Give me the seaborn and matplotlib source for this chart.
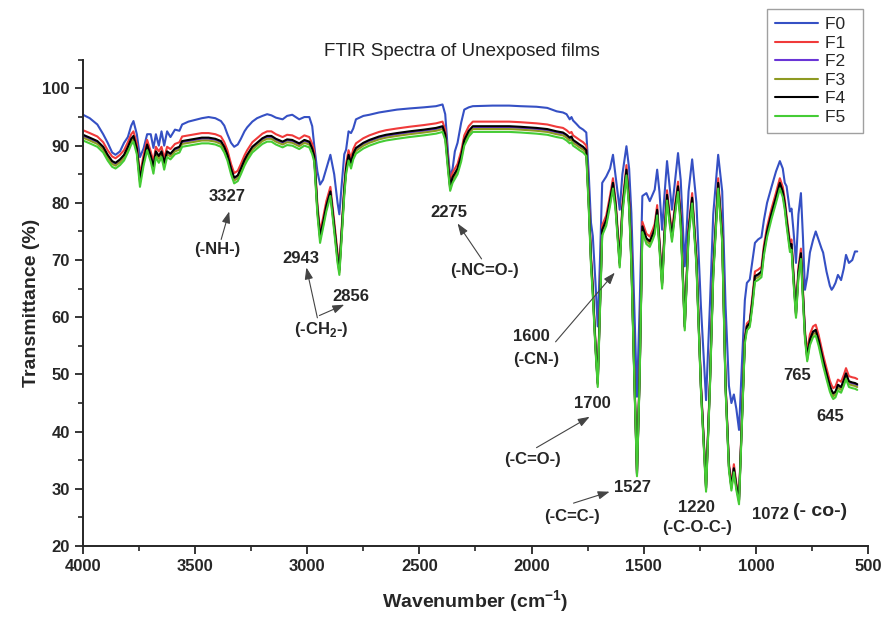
"""FTIR spectra of unexposed films F0-F5."""

import matplotlib

matplotlib.use("Agg")
import matplotlib.pyplot as plt
import pandas as pd
import seaborn as sns
from matplotlib.ticker import AutoMinorLocator, MultipleLocator

# wavenumber grid (cm-1)
WAVENUMBER = [
    4000, 3970, 3936, 3910, 3890, 3870, 3855, 3835, 3817, 3800,
    3785, 3775, 3760, 3746, 3730, 3714, 3698, 3686, 3675, 3662,
    3650, 3638, 3625, 3610, 3590, 3570, 3558, 3530, 3500, 3470,
    3440, 3410, 3385, 3370, 3356, 3340, 3326, 3310, 3296, 3280,
    3268, 3245, 3224, 3200, 3179, 3160, 3140, 3110, 3090, 3067,
    3036, 3013, 2991, 2978, 2969, 2955, 2943, 2930, 2915, 2897,
    2880, 2865, 2857, 2848, 2835, 2827, 2816, 2805, 2795, 2783,
    2750, 2723, 2680, 2649, 2600, 2545, 2480, 2426, 2397, 2385,
    2372, 2363, 2352, 2342, 2330, 2314, 2300, 2280, 2262, 2174,
    2100, 2050, 1978, 1930, 1888, 1860, 1844, 1830, 1822, 1815,
    1800, 1786, 1770, 1756, 1745, 1735, 1727, 1715, 1705, 1695,
    1685, 1667, 1650, 1637, 1625, 1607, 1595, 1577, 1565, 1555,
    1542, 1530, 1518, 1506, 1488, 1473, 1460, 1451, 1440, 1430,
    1418, 1408, 1396, 1385, 1374, 1360, 1347, 1335, 1317, 1300,
    1284, 1265, 1245, 1222, 1205, 1190, 1168, 1150, 1135, 1120,
    1109, 1098, 1087, 1075, 1062, 1049, 1040, 1027, 1015, 1004,
    990, 975, 964, 950, 930, 910, 893, 880, 871, 863,
    848, 841, 832, 821, 810, 799, 790, 781, 771, 759,
    745, 733, 720, 707, 700, 685, 670, 662, 655, 645,
    634, 620, 608, 598, 585, 570, 558, 548,
]

F0 = [
    95.4, 94.8, 93.7, 92.0, 90.5, 88.8, 88.4, 89.0, 90.5, 91.5,
    93.5, 94.3, 92.0, 88.0, 89.5, 92.0, 92.0, 89.6, 92.0, 90.0,
    92.5, 90.0, 92.5, 91.5, 92.8, 92.6, 93.7, 94.2, 94.5, 94.8,
    95.0, 94.8, 94.3, 93.5, 92.0, 90.5, 89.8, 90.2, 91.2, 92.5,
    93.2, 94.2, 94.8, 95.2, 95.5, 95.3, 94.9, 94.6, 95.2, 95.4,
    94.6, 95.0, 95.0, 93.4, 90.0, 85.5, 83.2, 84.0, 86.0, 88.4,
    85.0, 80.0, 78.0, 82.5, 88.5, 89.3, 92.5, 92.2, 93.0, 94.6,
    95.2, 95.4, 95.8, 96.0, 96.3, 96.5, 96.7, 96.9, 97.2, 95.5,
    88.5, 84.5, 86.0, 89.0, 90.5, 94.0, 96.3, 96.7, 96.9, 97.0,
    97.0, 96.9, 96.8, 96.6, 96.0, 95.8, 95.5, 94.6, 95.0, 94.4,
    93.8, 93.2, 92.8, 92.3, 85.0, 76.5, 74.2, 66.0, 58.4, 70.0,
    83.5, 84.6, 86.0, 88.4, 84.5, 78.8, 85.0, 89.9, 86.0, 78.2,
    62.0, 46.1, 62.0, 81.2, 81.7, 80.3, 81.5, 82.3, 85.8, 82.0,
    75.3, 81.0, 87.3, 83.0, 78.8, 84.0, 88.7, 84.0, 68.9, 82.0,
    87.6, 80.0, 62.0, 45.5, 62.0, 78.0, 88.4, 82.0, 62.0, 48.0,
    45.0, 46.5, 44.0, 40.3, 52.0, 63.0, 66.0, 66.6, 70.0, 73.0,
    73.6, 74.0, 77.0, 80.0, 82.8, 85.5, 87.3, 86.0, 83.5, 82.9,
    78.5, 79.0, 75.0, 69.5, 78.0, 81.7, 74.0, 64.8, 67.0, 71.3,
    73.5, 75.0, 73.5, 72.0, 71.3, 68.0, 65.5, 64.8, 65.2, 66.0,
    67.4, 66.5, 68.5, 70.9, 69.5, 70.0, 71.5, 71.5,
]

F1 = [
    92.7, 92.2, 91.6, 90.6, 89.2, 88.1, 87.8, 88.4, 89.2, 90.6,
    92.0, 92.5, 90.3, 84.9, 88.3, 91.0, 89.0, 87.2, 89.8, 89.0,
    89.8, 87.8, 89.8, 89.4, 90.3, 90.6, 91.6, 91.8, 92.0, 92.2,
    92.2, 92.0, 91.6, 90.6, 89.2, 86.8, 85.2, 85.6, 86.8, 88.3,
    89.2, 90.6, 91.3, 92.1, 92.5, 92.5, 92.0, 91.5, 91.9, 91.8,
    91.2, 91.8, 91.5, 90.3, 89.0, 79.8, 75.0, 77.3, 80.3, 82.8,
    76.8, 71.3, 69.1, 74.8, 83.1, 86.8, 89.2, 87.8, 89.4, 90.4,
    91.3, 91.8, 92.4, 92.7, 93.0, 93.3, 93.6, 93.9, 94.2, 92.8,
    87.3, 83.7, 85.3, 86.0, 86.8, 89.0, 91.8, 93.4, 94.2, 94.2,
    94.2, 94.1, 93.9, 93.7, 93.3, 93.1, 92.7, 92.2, 92.4, 91.8,
    91.4, 91.0, 90.6, 90.0, 80.8, 70.8, 65.6, 55.5, 49.0, 62.8,
    76.1, 77.8, 81.3, 84.3, 80.3, 70.3, 79.8, 86.6, 80.8, 70.8,
    50.5, 33.2, 50.5, 76.7, 74.6, 74.1, 75.3, 76.3, 79.6, 73.8,
    66.8, 74.8, 82.2, 78.3, 75.0, 79.8, 83.7, 77.8, 58.9, 75.8,
    81.7, 70.8, 48.5, 30.7, 48.5, 68.8, 84.3, 74.8, 48.5, 34.5,
    30.9, 34.3, 31.0, 28.6, 42.5, 56.6, 58.9, 59.5, 63.8, 68.0,
    68.3, 68.8, 72.6, 75.8, 79.0, 81.8, 84.3, 82.8, 80.6, 77.8,
    73.2, 73.6, 67.8, 61.5, 68.8, 72.0, 64.8, 57.7, 54.0, 57.0,
    58.4, 58.7, 56.9, 54.6, 53.4, 51.1, 48.9, 48.1, 47.6, 47.9,
    49.1, 48.7, 49.9, 51.1, 49.7, 49.5, 49.4, 49.2,
]

F2 = [
    91.7, 91.2, 90.6, 89.6, 88.2, 87.1, 86.8, 87.4, 88.2, 89.6,
    91.0, 91.5, 89.3, 83.9, 87.3, 90.0, 88.0, 86.2, 88.8, 88.0,
    88.8, 86.8, 88.8, 88.4, 89.3, 89.6, 90.6, 90.8, 91.0, 91.2,
    91.2, 91.0, 90.6, 89.6, 88.2, 85.8, 84.2, 84.6, 85.8, 87.3,
    88.2, 89.6, 90.3, 91.1, 91.5, 91.5, 91.0, 90.5, 90.9, 90.8,
    90.2, 90.8, 90.5, 89.3, 88.0, 78.8, 74.0, 76.3, 79.3, 81.8,
    75.8, 70.3, 68.1, 73.8, 82.1, 85.8, 88.2, 86.8, 88.4, 89.4,
    90.3, 90.8, 91.4, 91.7, 92.0, 92.3, 92.6, 92.9, 93.2, 91.8,
    86.3, 82.7, 84.3, 85.0, 85.8, 88.0, 90.8, 92.4, 93.2, 93.2,
    93.2, 93.1, 92.9, 92.7, 92.3, 92.1, 91.7, 91.2, 91.4, 90.8,
    90.4, 90.0, 89.6, 89.0, 79.8, 69.8, 64.6, 54.9, 48.4, 61.8,
    75.1, 76.8, 80.3, 83.3, 79.3, 69.3, 78.8, 85.6, 79.8, 69.8,
    49.9, 32.6, 49.9, 75.7, 73.6, 73.1, 74.3, 75.3, 78.6, 72.8,
    65.8, 73.8, 81.2, 77.3, 74.0, 78.8, 82.7, 76.8, 58.3, 74.8,
    80.7, 69.8, 47.9, 30.1, 47.9, 67.8, 83.3, 73.8, 47.9, 33.9,
    30.3, 33.5, 30.4, 28.0, 41.9, 56.0, 58.3, 58.9, 62.8, 67.0,
    67.3, 67.8, 71.6, 74.8, 78.0, 80.8, 83.3, 81.8, 79.6, 76.8,
    72.2, 72.6, 66.8, 60.5, 67.8, 71.0, 63.8, 56.9, 52.9, 55.9,
    57.3, 57.6, 55.8, 53.5, 52.3, 50.0, 47.8, 47.0, 46.5, 46.8,
    48.0, 47.6, 48.8, 50.0, 48.6, 48.4, 48.3, 48.1,
]

F3 = [
    91.4, 90.9, 90.3, 89.3, 87.9, 86.8, 86.5, 87.1, 87.9, 89.3,
    90.7, 91.2, 89.0, 83.6, 87.0, 89.7, 87.7, 85.9, 88.5, 87.7,
    88.5, 86.5, 88.5, 88.1, 89.0, 89.3, 90.3, 90.5, 90.7, 90.9,
    90.9, 90.7, 90.3, 89.3, 87.9, 85.5, 83.9, 84.3, 85.5, 87.0,
    87.9, 89.3, 90.0, 90.8, 91.2, 91.2, 90.7, 90.2, 90.6, 90.5,
    89.9, 90.5, 90.2, 89.0, 87.7, 78.5, 73.7, 76.0, 79.0, 81.5,
    75.5, 70.0, 67.8, 73.5, 81.8, 85.5, 87.9, 86.5, 88.1, 89.1,
    90.0, 90.5, 91.1, 91.4, 91.7, 92.0, 92.3, 92.6, 92.9, 91.5,
    86.0, 82.4, 84.0, 84.7, 85.5, 87.7, 90.5, 92.1, 92.9, 92.9,
    92.9, 92.8, 92.6, 92.4, 92.0, 91.8, 91.4, 90.9, 91.1, 90.5,
    90.1, 89.7, 89.3, 88.7, 79.5, 69.5, 64.3, 54.7, 48.2, 61.5,
    74.8, 76.5, 80.0, 83.0, 79.0, 69.0, 78.5, 85.3, 79.5, 69.5,
    49.7, 32.4, 49.7, 75.4, 73.3, 72.8, 74.0, 75.0, 78.3, 72.5,
    65.5, 73.5, 80.9, 77.0, 73.7, 78.5, 82.4, 76.5, 58.1, 74.5,
    80.4, 69.5, 47.7, 29.9, 47.7, 67.5, 83.0, 73.5, 47.7, 33.7,
    30.1, 33.3, 30.2, 27.8, 41.7, 55.8, 58.1, 58.7, 62.5, 66.7,
    67.0, 67.5, 71.3, 74.5, 77.7, 80.5, 83.0, 81.5, 79.3, 76.5,
    71.9, 72.3, 66.5, 60.2, 67.5, 70.7, 63.5, 56.7, 52.6, 55.6,
    57.0, 57.3, 55.5, 53.2, 52.0, 49.7, 47.5, 46.7, 46.2, 46.5,
    47.7, 47.3, 48.5, 49.7, 48.3, 48.1, 48.0, 47.8,
]

F4 = [
    91.9, 91.4, 90.8, 89.8, 88.4, 87.3, 87.0, 87.6, 88.4, 89.8,
    91.2, 91.7, 89.5, 84.1, 87.5, 90.2, 88.2, 86.4, 89.0, 88.2,
    89.0, 87.0, 89.0, 88.6, 89.5, 89.8, 90.8, 91.0, 91.2, 91.4,
    91.4, 91.2, 90.8, 89.8, 88.4, 86.0, 84.4, 84.8, 86.0, 87.5,
    88.4, 89.8, 90.5, 91.3, 91.7, 91.7, 91.2, 90.7, 91.1, 91.0,
    90.4, 91.0, 90.7, 89.5, 88.2, 79.0, 74.2, 76.5, 79.5, 82.0,
    76.0, 70.5, 68.3, 74.0, 82.3, 86.0, 88.4, 87.0, 88.6, 89.6,
    90.5, 91.0, 91.6, 91.9, 92.2, 92.5, 92.8, 93.1, 93.4, 92.0,
    86.5, 82.9, 84.5, 85.2, 86.0, 88.2, 91.0, 92.6, 93.4, 93.4,
    93.4, 93.3, 93.1, 92.9, 92.5, 92.3, 91.9, 91.4, 91.6, 91.0,
    90.6, 90.2, 89.8, 89.2, 80.0, 70.0, 64.8, 55.0, 48.5, 62.0,
    75.3, 77.0, 80.5, 83.5, 79.5, 69.5, 79.0, 85.8, 80.0, 70.0,
    50.0, 32.7, 50.0, 75.9, 73.8, 73.3, 74.5, 75.5, 78.8, 73.0,
    66.0, 74.0, 81.4, 77.5, 74.2, 79.0, 82.9, 77.0, 58.4, 75.0,
    80.9, 70.0, 48.0, 30.2, 48.0, 68.0, 83.5, 74.0, 48.0, 34.0,
    30.4, 33.6, 30.5, 28.1, 42.0, 56.1, 58.4, 59.0, 63.0, 67.2,
    67.5, 68.0, 71.8, 75.0, 78.2, 81.0, 83.5, 82.0, 79.8, 77.0,
    72.4, 72.8, 67.0, 60.7, 68.0, 71.2, 64.0, 57.0, 53.1, 56.1,
    57.5, 57.8, 56.0, 53.7, 52.5, 50.2, 48.0, 47.2, 46.7, 47.0,
    48.2, 47.8, 49.0, 50.2, 48.8, 48.6, 48.5, 48.3,
]

F5 = [
    90.9, 90.4, 89.8, 88.8, 87.4, 86.3, 86.0, 86.6, 87.4, 88.8,
    90.2, 90.7, 88.5, 82.8, 86.5, 89.2, 87.2, 85.1, 88.0, 87.0,
    88.0, 85.8, 88.0, 87.6, 88.5, 88.8, 89.8, 90.0, 90.2, 90.4,
    90.4, 90.2, 89.8, 88.8, 87.4, 85.0, 83.4, 83.8, 85.0, 86.5,
    87.4, 88.8, 89.5, 90.3, 90.7, 90.7, 90.2, 89.7, 90.1, 90.0,
    89.4, 90.0, 89.7, 88.5, 87.2, 78.0, 73.0, 75.5, 78.5, 81.2,
    75.0, 69.5, 67.4, 73.0, 81.3, 85.0, 87.4, 86.0, 87.6, 88.6,
    89.5, 90.0, 90.6, 90.9, 91.2, 91.5, 91.8, 92.1, 92.4, 91.0,
    85.5, 82.1, 83.5, 84.2, 85.0, 87.2, 90.0, 91.6, 92.4, 92.4,
    92.4, 92.3, 92.1, 91.9, 91.5, 91.3, 90.9, 90.4, 90.6, 90.0,
    89.6, 89.2, 88.8, 88.2, 79.0, 69.0, 63.8, 54.3, 47.8, 61.0,
    74.3, 76.0, 79.5, 82.5, 78.5, 68.7, 78.0, 84.8, 79.0, 69.0,
    49.3, 32.2, 49.3, 74.9, 72.8, 72.3, 73.5, 74.5, 77.8, 72.0,
    65.0, 73.0, 80.4, 76.5, 73.2, 78.0, 81.9, 76.0, 57.7, 74.0,
    79.9, 69.0, 47.3, 29.5, 47.3, 67.0, 82.5, 73.0, 47.3, 33.3,
    29.7, 32.9, 29.8, 27.3, 41.3, 55.4, 57.7, 58.3, 62.0, 66.2,
    66.5, 67.0, 70.8, 74.0, 77.2, 80.0, 82.5, 81.0, 78.8, 76.0,
    71.4, 71.8, 66.0, 59.9, 67.0, 70.2, 63.0, 56.2, 52.3, 55.1,
    56.5, 56.8, 55.0, 52.7, 51.5, 49.2, 47.0, 46.2, 45.7, 46.0,
    47.2, 46.8, 48.0, 49.2, 47.8, 47.6, 47.5, 47.3,
]

FILMS = ["F0", "F1", "F2", "F3", "F4", "F5"]
COLORS = ["#3550c4", "#f03a3a", "#6a35d6", "#8e9a22", "#000000", "#45cc35"]

# peak labels: (text, wavenumber, transmittance)
PEAK_LABELS = [
    ("3327", 3357, 81.1),
    ("(-NH-)", 3402, 71.8),
    ("2943", 3027, 70.2),
    ("2856", 2804, 63.6),
    ("(-CH$_{\\mathbf{2}}$-)", 2938, 57.8),
    ("2275", 2370, 78.3),
    ("(-NC=O-)", 2210, 68.1),
    ("1600", 2000, 56.6),
    ("(-CN-)", 1978, 52.6),
    ("1700", 1728, 45.0),
    ("(-C=O-)", 1996, 35.1),
    ("1527", 1549, 30.2),
    ("(-C=C-)", 1821, 25.1),
    ("1220", 1263, 26.8),
    ("(-C-O-C-)", 1263, 23.3),
    ("1072", 933, 25.6),
    ("765", 817, 49.9),
    ("645", 670, 42.6),
]

# arrows: (tail wn, tail T, head wn, head T)
ARROWS = [
    (3384, 73.6, 3348, 78.5),
    (2955, 59.9, 3004, 68.7),
    (2946, 60.3, 2835, 62.2),
    (2223, 70.2, 2330, 76.4),
    (1893, 55.7, 1629, 67.8),
    (1978, 37.2, 1741, 42.6),
    (1813, 27.5, 1652, 29.5),
]

series = {"F0": F0, "F1": F1, "F2": F2, "F3": F3, "F4": F4, "F5": F5}
for name, values in series.items():
    assert len(values) == len(WAVENUMBER), name

df = pd.concat(
    [
        pd.DataFrame({"wavenumber": WAVENUMBER, "transmittance": values, "film": name})
        for name, values in series.items()
    ],
    ignore_index=True,
)

sns.set_style("ticks")
plt.rcParams["font.family"] = ["Liberation Sans", "DejaVu Sans"]
plt.rcParams["mathtext.fontset"] = "custom"
plt.rcParams["mathtext.rm"] = "Liberation Sans"
plt.rcParams["mathtext.bf"] = "Liberation Sans:bold"

fig = plt.figure(figsize=(8.83, 6.17), dpi=100)
ax = fig.add_axes([0.094, 0.115, 0.889, 0.788])

sns.lineplot(
    data=df,
    x="wavenumber",
    y="transmittance",
    hue="film",
    hue_order=FILMS,
    palette=dict(zip(FILMS, COLORS)),
    estimator=None,
    linewidth=1.5,
    legend=False,
    ax=ax,
)

ax.set_xlim(4000, 500)
ax.set_ylim(20, 105)
ax.xaxis.set_major_locator(MultipleLocator(500))
ax.xaxis.set_minor_locator(AutoMinorLocator(2))
ax.set_yticks(range(20, 101, 10))
ax.yaxis.set_minor_locator(AutoMinorLocator(2))
ax.tick_params(which="major", direction="out", length=6, width=1.3, labelsize=12)
ax.tick_params(which="minor", direction="out", length=3.5, width=1.2)
for lbl in ax.get_xticklabels() + ax.get_yticklabels():
    lbl.set_fontweight("bold")

sns.despine(ax=ax)
for side in ["left", "bottom"]:
    ax.spines[side].set_linewidth(1.4)

ax.set_xlabel(r"Wavenumber (cm$^{\mathbf{-1}}$)", fontsize=14, fontweight="bold", labelpad=10)
ax.set_ylabel("Transmittance (%)", fontsize=14, fontweight="bold", labelpad=2)

fig.text(462 / 883, 1 - 52 / 617, "FTIR Spectra of Unexposed films",
         ha="center", va="center", fontsize=13.5, color="#222222")

for text, wn, t in PEAK_LABELS:
    ax.text(wn, t, text, ha="center", va="center", fontsize=12, fontweight="bold")
ax.text(714, 26.0, "(- co-)", ha="center", va="center", fontsize=14, fontweight="bold")

for x0, y0, x1, y1 in ARROWS:
    ax.annotate(
        "",
        xy=(x1, y1),
        xytext=(x0, y0),
        arrowprops=dict(arrowstyle="-|>,head_length=0.7,head_width=0.25",
                        color="#444444", lw=0.8, shrinkA=0, shrinkB=0),
    )

handles = ax.get_lines()[: len(FILMS)]
leg = fig.legend(
    handles,
    [f + "  " for f in FILMS],
    loc="upper right",
    bbox_to_anchor=(863 / 883, 1 - 9 / 617),
    fontsize=12.5,
    frameon=True,
    fancybox=False,
    edgecolor="#888888",
    handlelength=2.5,
    handletextpad=0.4,
    labelspacing=0.2,
    borderpad=0.45,
    borderaxespad=0,
)
leg.get_frame().set_linewidth(1.0)

fig.savefig("out.png", dpi=100)
